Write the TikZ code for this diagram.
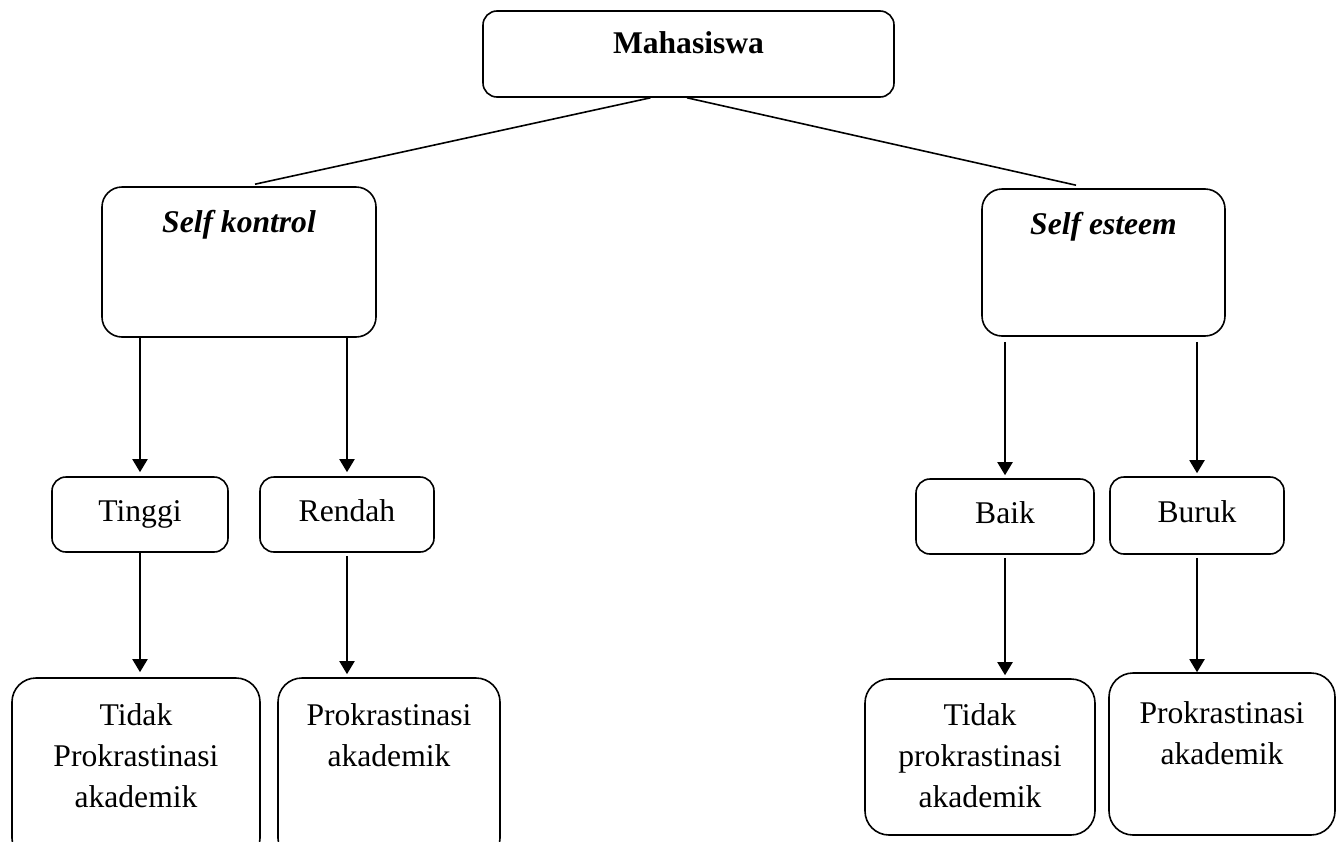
\documentclass[tikz,border=0pt]{standalone}
\usepackage{fontspec}
\setmainfont{Liberation Serif}
\usepackage{tikz}
\usetikzlibrary{positioning, arrows.meta}
\tikzstyle{kt}=[%
      rectangle, rounded corners=7pt, draw=black, thick, fill=none,
      text height=10.7pt, text depth=4.2pt,
      inner sep=0pt, align=center, font=\fontsize{15.8}{20.5}\selectfont
]
\tikzstyle{tx}=[%
      inner sep=0pt, align=center, font=\fontsize{15.8}{20.5}\selectfont
]
\begin{document}
\begin{tikzpicture}[x=0.5pt, y=-0.5pt,
    ->,
    -{Triangle[length=6.5pt,width=7.5pt]},
    thick
  ]
    \useasboundingbox (0,0) rectangle (1343,841);

    \node[kt, minimum width=205.5pt, minimum height=43pt]                    (mhs)    at (688.5,54)    {};
    \node[tx]                                                                (mhs-t)  [below = 10.5pt of mhs.north] {\textbf{Mahasiswa}};

    \node[kt, rounded corners=10pt, minimum width=137pt, minimum height=75pt]   (sk)   at (239,262)     {};
    \node[tx]                                                                (sk-t)   [below = 11.5pt of sk.north]  {\textbf{\textit{Self kontrol}}};
    \node[kt, rounded corners=10pt, minimum width=121.5pt, minimum height=73.5pt] (se)  at (1103.5,262.5) {};
    \node[tx]                                                                (se-t)   [below = 11.5pt of se.north]  {\textbf{\textit{Self esteem}}};

    \node[kt, minimum width=88pt, minimum height=37.5pt]                     (tinggi) at (140,514.5)   {Tinggi};
    \node[kt, minimum width=87pt, minimum height=37.5pt]                     (rendah) at (347,514.5)   {Rendah};
    \node[kt, minimum width=89pt, minimum height=37.5pt]                     (baik)   at (1005,516.5)  {Baik};
    \node[kt, minimum width=87pt, minimum height=38.5pt]                     (buruk)  at (1197,515.5)  {Buruk};

    \node[kt, rounded corners=12pt, minimum width=124pt, minimum height=92pt]   (tdk1) at (136,770)      {};
    \node[tx]                                                                (tdk1-t) [below = 13pt of tdk1.north] {Tidak\\Prokrastinasi\\akademik};
    \node[kt, rounded corners=12pt, minimum width=111pt, minimum height=92pt]   (pro1) at (389,770)      {};
    \node[tx]                                                                (pro1-t) [below = 13pt of pro1.north] {Prokrastinasi\\akademik};
    \node[kt, rounded corners=12pt, minimum width=115pt, minimum height=78pt]   (tdk2) at (980,757)      {};
    \node[tx]                                                                (tdk2-t) [below = 12.5pt of tdk2.north] {Tidak\\prokrastinasi\\akademik};
    \node[kt, rounded corners=12pt, minimum width=113pt, minimum height=81pt]   (pro2) at (1222,754)     {};
    \node[tx]                                                                (pro2-t) [below = 14.5pt of pro2.north] {Prokrastinasi\\akademik};

    \path ([xshift=-19pt]mhs.south) edge[-] ([xshift=8pt, yshift=1pt]sk.north)
          ([xshift=-0.75pt]mhs.south) edge[-] ([xshift=-13.75pt, yshift=1.5pt]se.north);
    \path[line width=1pt]
          (sk.south -| tinggi) edge[shorten >=2pt] (tinggi)
          (sk.south -| rendah) edge[shorten >=2pt] (rendah)
          (se.south -| baik) edge[shorten <=2.5pt, shorten >=1.5pt] (baik)
          (se.south -| buruk) edge[shorten <=2.5pt, shorten >=1.5pt] (buruk)
          (tinggi) edge[shorten >=2.5pt] (tinggi |- tdk1.north)
          (rendah) edge[shorten <=1.5pt, shorten >=1.5pt] (rendah |- pro1.north)
          (baik) edge[shorten <=1.5pt, shorten >=1.5pt] (baik |- tdk2.north)
          (buruk) edge[shorten <=1.5pt] (buruk |- pro2.north)
    ;

  \end{tikzpicture}
\end{document}
